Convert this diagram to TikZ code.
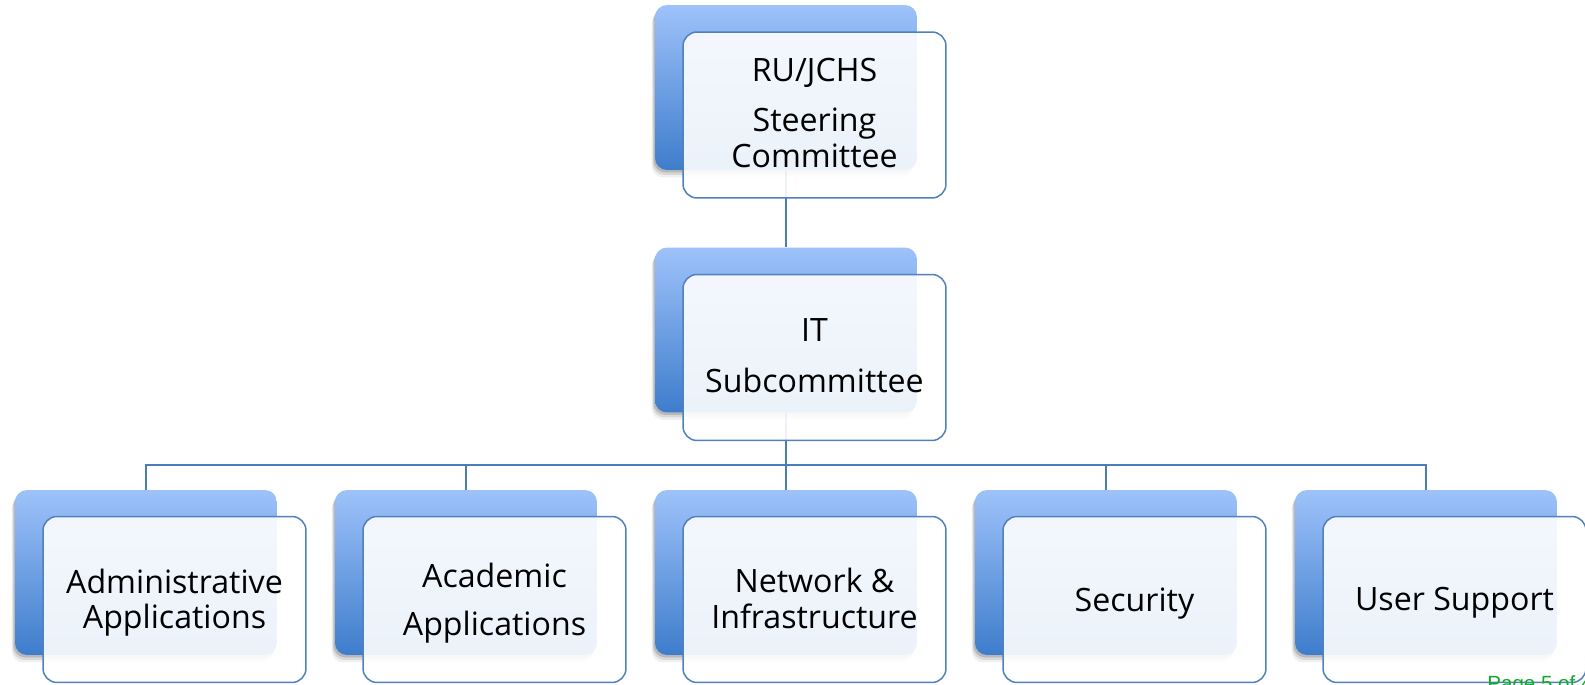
\documentclass[tikz,border=0pt]{standalone}
\usepackage{fontspec}
\setmainfont{Open Sans}
\newfontfamily\pagefont{Liberation Sans}
\usetikzlibrary{shadows}
\pgfdeclarelayer{bg}
\pgfsetlayers{bg,main}
\definecolor{backtop}{RGB}{158,194,250}
\definecolor{backbot}{RGB}{62,125,204}
\definecolor{frameblue}{RGB}{79,129,189}
\definecolor{linkblue}{RGB}{74,126,187}
\definecolor{pagegreen}{RGB}{20,170,40}
\begin{document}
\begin{tikzpicture}[x=0.02cm,y=-0.02cm,
  backbox/.style={rectangle, rounded corners=0.24cm, minimum width=5.24cm,
    minimum height=3.3cm, inner sep=0pt, top color=backtop, bottom color=backbot,
    draw=none,
    drop shadow={shadow xshift=-0.03cm,shadow yshift=-0.05cm,opacity=0.15,fill=black},
    drop shadow={shadow xshift=-0.05cm,shadow yshift=-0.10cm,opacity=0.10,fill=black},
    drop shadow={shadow xshift=-0.07cm,shadow yshift=-0.15cm,opacity=0.06,fill=black}},
  frontbox/.style={rectangle, rounded corners=0.28cm, minimum width=5.26cm,
    minimum height=3.32cm, inner sep=0pt, draw=frameblue, line width=0.03cm,
    fill=white, fill opacity=0.9},
  lbl/.style={anchor=base, inner sep=0pt, font=\fontsize{18.3pt}{22pt}\selectfont, text=black},
  link/.style={draw=linkblue, line width=0.04cm}]
\useasboundingbox (0,0) rectangle (1585,685);
\clip (0,0) rectangle (1585,685);
% back boxes
\node[backbox] (b0) at (786,87.5) {};
\node[backbox] (b1) at (786,330) {};
\node[backbox] (b2) at (146,572.5) {};
\node[backbox] (b3) at (466,572.5) {};
\node[backbox] (b4) at (786,572.5) {};
\node[backbox] (b5) at (1106,572.5) {};
\node[backbox] (b6) at (1426,572.5) {};
% front boxes
\node[frontbox] (f0) at (814.5,115) {};
\node[frontbox] (f1) at (814.5,357.5) {};
\node[frontbox] (f2) at (174.5,599.5) {};
\node[frontbox] (f3) at (494.5,599.5) {};
\node[frontbox] (f4) at (814.5,599.5) {};
\node[frontbox] (f5) at (1134.5,599.5) {};
\node[frontbox] (f6) at (1454.5,599.5) {};
% connectors
\begin{pgfonlayer}{bg}
\coordinate (bus) at (786,465);
\draw[link] (b0.south) -- (b1.north);
\draw[link] (b1.south) -- (bus);
\draw[link] (b2.north) |- (bus);
\draw[link] (b3.north) |- (bus);
\draw[link] (b4.north) -- (bus);
\draw[link] (b5.north) |- (bus);
\draw[link] (b6.north) |- (bus);
\end{pgfonlayer}
% labels
\node[lbl] (t0a) at (814.5,82) {RU/JCHS};
\node[lbl] (t0b) at (814.5,132) {Steering};
\node[lbl] (t0c) at (814.5,168) {Committee};
\node[lbl] (t1a) at (814.5,342) {IT};
\node[lbl] (t1b) at (814.5,393) {Subcommittee};
\node[lbl] (t2a) at (174.5,593) {Administrative};
\node[lbl] (t2b) at (174.5,628) {Applications};
\node[lbl] (t3a) at (494.5,587) {Academic};
\node[lbl] (t3b) at (494.5,635) {Applications};
\node[lbl] (t4a) at (814.5,592) {Network \&};
\node[lbl] (t4b) at (814.5,628) {Infrastructure};
\node[lbl] (t5) at (1134.5,611) {Security};
\node[lbl] (t6) at (1454.5,610) {User Support};
\node[anchor=base west, inner sep=0pt, font=\pagefont\fontsize{11.7pt}{14pt}\selectfont,
  text=pagegreen] (pg) at (1487,690) {Page 5 of 4};
\end{tikzpicture}
\end{document}
